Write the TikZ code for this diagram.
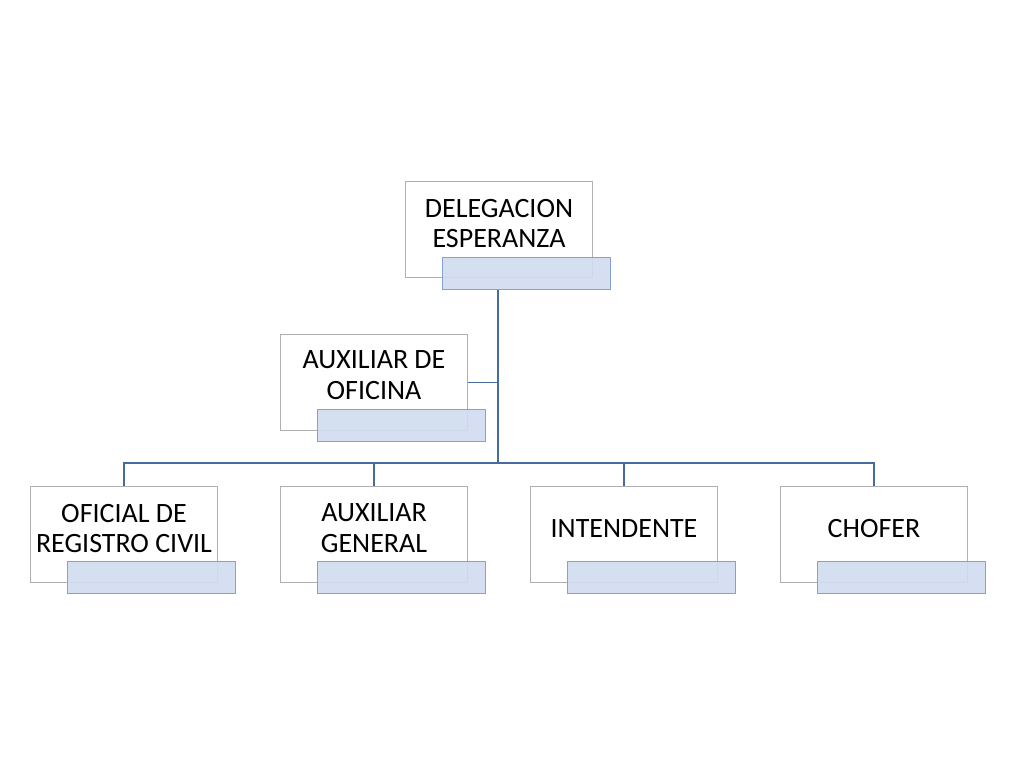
\documentclass[tikz,border=0pt]{standalone}
\usepackage{fontspec}
\setmainfont{Carlito}
\usepackage{tikz}
\usetikzlibrary{positioning, calc}

\definecolor{boxgray}{RGB}{175,175,175}
\definecolor{tabfill}{RGB}{208,220,239}
\definecolor{tabdraw}{RGB}{135,162,205}
\definecolor{linkblue}{RGB}{70,108,158}

\begin{document}
\begin{tikzpicture}[x=0.025cm, y=-0.025cm,
        post/.style={draw=boxgray, fill=white, line width=0.7pt, minimum width=4.675cm, minimum height=2.4cm, anchor=north west},
        tab/.style={draw=tabdraw, fill=tabfill, fill opacity=0.9, line width=0.7pt, minimum width=4.2cm, minimum height=0.8cm, anchor=north west},
        title/.style={align=center, font=\fontsize{19.9}{22}\selectfont, inner sep=0pt},
        link/.style={draw=linkblue, line width=1pt}]
        \useasboundingbox (0,0) rectangle (1024,768);

        % boxes
        \node[post] (delegacion) at (405,181) {};
        \node[tab] (deltab) at (442,257) {};
        \node[post] (auxofi) at (280,334) {};
        \node[tab] (auxofitab) at (317,409) {};
        \node[post] (oficial) at (30,486) {};
        \node[tab] (oficialtab) at (67,561) {};
        \node[post] (auxgen) at (280,486) {};
        \node[tab] (auxgentab) at (317,561) {};
        \node[post] (intendente) at (530,486) {};
        \node[tab] (intendentetab) at (567,561) {};
        \node[post] (chofer) at (780,486) {};
        \node[tab] (chofertab) at (817,561) {};

        % titles
        \node[title] (deltext) at ($(delegacion.center)+(0,-6)$) {DELEGACION\\ESPERANZA};
        \node[title] (auxofitext) at ($(auxofi.center)+(0,-7)$) {AUXILIAR DE\\OFICINA};
        \node[title] (oficialtext) at ($(oficial.center)+(0,-6)$) {OFICIAL DE\\REGISTRO CIVIL};
        \node[title] (auxgentext) at ($(auxgen.center)+(0,-6)$) {AUXILIAR\\GENERAL};
        \node[title] (intendentetext) at ($(intendente.center)+(0,-6)$) {INTENDENTE};
        \node[title] (chofertext) at ($(chofer.center)+(0,-6)$) {CHOFER};

        % links
        \coordinate (bus) at (498,463);
        \draw[link] (bus |- deltab.south) -- (bus);
        \draw[link] (auxofi.east) -- (auxofi.east -| bus);
        \draw[link] (oficial.north) -- (oficial.north |- bus) -- (chofer.north |- bus) -- (chofer.north);
        \draw[link] (auxgen.north) -- (auxgen.north |- bus);
        \draw[link] (intendente.north) -- (intendente.north |- bus);
    \end{tikzpicture}
\end{document}
